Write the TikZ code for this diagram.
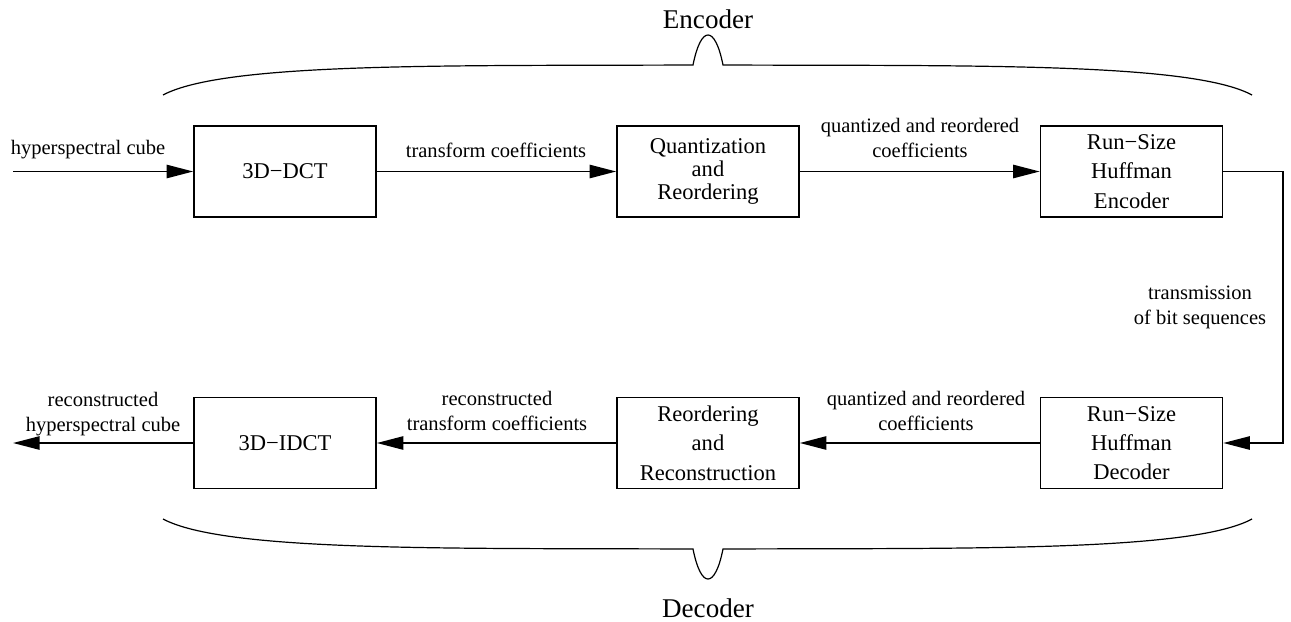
\documentclass[tikz,border=0pt]{standalone}
\usepackage{fontspec}
\setmainfont{Liberation Serif}
\usetikzlibrary{arrows.meta}
\begin{document}
\begin{tikzpicture}[x=0.75pt,y=-0.75pt,
  block/.style={draw, line width=1.2pt, minimum width=136.5pt, minimum height=68.25pt,
    inner sep=0pt, align=center, font=\fontsize{16.9}{22}\selectfont},
  tightblock/.style={block, font=\fontsize{16.9}{17.4}\selectfont},
  lbl/.style={inner sep=0pt, align=center, font=\fontsize{15.4}{18.8}\selectfont},
  heading/.style={inner sep=0pt, font=\fontsize{20.3}{24}\selectfont},
  flow/.style={line width=1.3pt, -{Triangle[length=20pt,width=10pt]}},
  brace/.style={line width=0.9pt}]
\useasboundingbox (0,0) rectangle (1291,621);

% encoder chain
\node[block]      (dct)   at (285,171.5)    {3D−DCT};
\node[tightblock] (quant) at (708,171.5)    {Quantization\\and\\Reordering};
\node[block]      (henc)  at (1131.5,171.5) {Run−Size\\Huffman\\Encoder};

% decoder chain
\node[block] (hdec)  at (1131.5,443) {Run−Size\\Huffman\\Decoder};
\node[block] (reord) at (708,443)    {Reordering\\and\\Reconstruction};
\node[block] (idct)  at (285,443)    {3D−IDCT};

% free ends and the turn of the channel
\coordinate (in)   at (13,171.5);
\coordinate (out)  at (13,443);
\coordinate (chan) at (1283,307);

% connectors
\draw[flow] (in) -- (dct);
\draw[flow] (dct) -- (quant);
\draw[flow] (quant) -- (henc);
\draw[flow] (henc.east) -| (chan) |- (hdec.east);
\draw[flow] (hdec) -- (reord);
\draw[flow] (reord) -- (idct);
\draw[flow] (idct) -- (out);

% connector labels
\node[lbl] (lin)   at (88,150)   {hyperspectral cube};
\node[lbl] (ltc)   at (496,150)  {transform coefficients};
\node[lbl] (lqr)   at (920,138)  {quantized and reordered\\coefficients};
\node[lbl] (ltx)   at (1200,307) {transmission\\of bit sequences};
\node[lbl] (lqr2)  at (926,411)  {quantized and reordered\\coefficients};
\node[lbl] (lrtc)  at (497,411)  {reconstructed\\transform coefficients};
\node[lbl] (lout)  at (103,414)  {reconstructed\\hyperspectral cube};

% braces with their headings
\draw[brace] (163,95) .. controls (225,62) and (450,66) .. (693,65)
  .. controls (701,25) and (715,25) .. (723,65)
  .. controls (966,66) and (1191,62) .. (1252,95);
\draw[brace] (163,519) .. controls (225,552) and (450,548) .. (693,549)
  .. controls (701,589) and (715,589) .. (723,549)
  .. controls (966,548) and (1191,552) .. (1252,519);
\node[heading] (enc) at (708,19)  {Encoder};
\node[heading] (dec) at (708,608) {Decoder};
\end{tikzpicture}
\end{document}
